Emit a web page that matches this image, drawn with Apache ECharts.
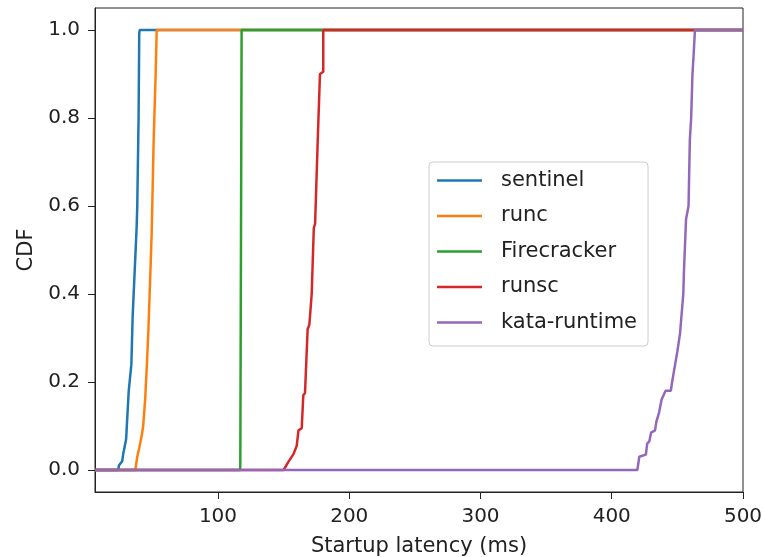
<!DOCTYPE html>
<html>
<head>
<meta charset="utf-8">
<script src="https://cdn.jsdelivr.net/npm/echarts@6/dist/echarts.min.js"></script>
<style>
html,body{margin:0;padding:0;background:#fff;}
#chart{width:765px;height:557px;}
</style>
</head>
<body>
<div id="chart"></div>
<script>
// axis ranges and ticks
const xMin = 6.3;
const xMax = 500;
const xTicks = [100, 200, 300, 400, 500];
const yTicks = [0, 0.2, 0.4, 0.6, 0.8, 1.0];

// series names
const seriesNames = ['sentinel', 'runc', 'Firecracker', 'runsc', 'kata-runtime'];

// CDF points [latency ms, cdf]
const sentinel = [[6.3,0],[24,0],[24.5,0.01],[27,0.02],[28,0.04],[30,0.07],[32,0.18],[34,0.24],[35,0.35],[36.5,0.45],[38,0.55],[38.5,0.6],[39.5,0.8],[40,0.99],[40.3,1.0],[500,1.0]];
const runc = [[6.3,0],[37,0],[37.5,0.01],[38.5,0.03],[40,0.05],[42,0.08],[43,0.1],[44.5,0.16],[46,0.25],[47,0.32],[48.5,0.45],[49.5,0.54],[51,0.75],[52.5,0.9],[53.3,1.0],[500,1.0]];
const firecracker = [[6.3,0],[116.8,0],[117,0.01],[117.5,0.5],[118,1.0],[500,1.0]];
const runsc = [[6.3,0],[150,0],[153.5,0.018],[157.5,0.036],[160,0.055],[161.3,0.09],[163.8,0.095],[165,0.17],[166.3,0.175],[168.3,0.32],[169.6,0.33],[171.4,0.4],[173,0.55],[174,0.56],[176,0.75],[177.7,0.9],[180.2,0.905],[180.2,1.0],[500,1.0]];
const kata = [[6.3,0],[419.5,0],[421,0.03],[426,0.035],[427,0.06],[428.6,0.065],[430,0.085],[433,0.09],[434,0.11],[436,0.13],[438,0.16],[441,0.18],[445,0.18],[446,0.2],[448,0.235],[450,0.27],[452,0.31],[454.5,0.4],[455,0.45],[456.6,0.57],[458.5,0.6],[459.5,0.75],[460.5,0.8],[461.5,0.9],[462.5,0.95],[463.4,1.0],[500,1.0]];

const colors = ['#1f77b4', '#ff7f0e', '#2ca02c', '#d62728', '#9467bd'];
const allData = [sentinel, runc, firecracker, runsc, kata];

const FONT = 'DejaVu Sans';
const chart = echarts.init(document.getElementById('chart'), null, {renderer: 'canvas'});
chart.setOption({
  animation: false,
  backgroundColor: '#fff',
  color: colors,
  grid: {left: 95, right: 22, top: 8, bottom: 65, containLabel: false, outerBoundsMode: 'none', show: true, borderColor: '#222', borderWidth: 1, backgroundColor: 'transparent'},
  xAxis: {
    type: 'value', min: xMin, max: xMax,
    name: 'Startup latency (ms)', nameLocation: 'middle', nameGap: 44,
    nameTextStyle: {fontFamily: FONT, fontSize: 21, color: '#222'},
    axisLine: {show: true, onZero: false, lineStyle: {color: '#222', width: 1}},
    axisTick: {show: true, inside: false, length: 7, lineStyle: {color: '#222'}, customValues: xTicks},
    axisLabel: {fontFamily: FONT, fontSize: 20, color: '#222', margin: 15, customValues: xTicks, formatter: v => String(v)},
    splitLine: {show: false}
  },
  yAxis: {
    type: 'value', min: -0.05, max: 1.05,
    name: 'CDF', nameLocation: 'middle', nameGap: 57,
    nameTextStyle: {fontFamily: FONT, fontSize: 21, color: '#222'},
    axisLine: {show: true, onZero: false, lineStyle: {color: '#222', width: 1}},
    axisTick: {show: true, inside: false, length: 7, lineStyle: {color: '#222'}, customValues: yTicks},
    axisLabel: {fontFamily: FONT, fontSize: 20, color: '#222', margin: 15, customValues: yTicks, formatter: v => v.toFixed(1)},
    splitLine: {show: false}
  },
  legend: {
    orient: 'vertical', left: 429, top: 162,
    padding: [8, 11, 13, 8],
    itemGap: 14.5, itemWidth: 45, itemHeight: 2.5, icon: 'rect',
    backgroundColor: 'rgba(255,255,255,0.85)', borderColor: '#ccc', borderWidth: 1, borderRadius: 4,
    textStyle: {fontFamily: FONT, fontSize: 21, color: '#222', lineHeight: 20, padding: [0, 0, 0, 14]},
    data: seriesNames
  },
  series: allData.map((d, i) => ({
    name: seriesNames[i], type: 'line', data: d,
    symbol: 'none', showSymbol: false, smooth: false, clip: true,
    lineStyle: {width: 2.5, color: colors[i]}, itemStyle: {color: colors[i]},
    z: 2 + i
  }))
});
</script>
</body>
</html>
